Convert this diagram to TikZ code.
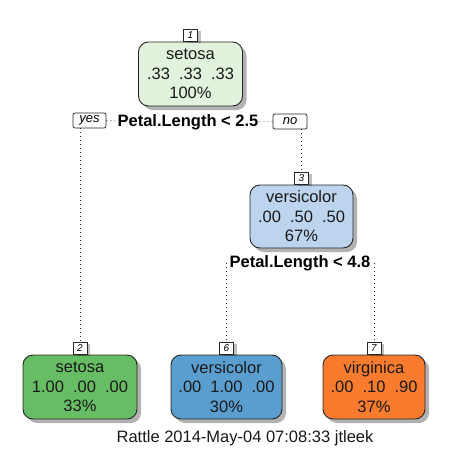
\documentclass[tikz,border=0pt]{standalone}
\usepackage{fontspec}
\setmainfont{Liberation Sans}
\usepackage{tikz}
\usetikzlibrary{shadows}
\definecolor{setosaL}{HTML}{E1F3DC}
\definecolor{setosaD}{HTML}{66BD63}
\definecolor{versiL}{HTML}{BDD4EE}
\definecolor{versiD}{HTML}{5A9ECF}
\definecolor{virgD}{HTML}{F87B2E}
\tikzstyle{leaf} = [draw=black!85, line width=0.9pt, rounded corners=10pt, align=center, inner sep=2pt,
  minimum height=64pt, font=\fontsize{16.5}{19.5}\selectfont, text=black!90,
  drop shadow={shadow xshift=4pt, shadow yshift=-4pt, opacity=0.3, fill=black}]
\tikzstyle{num} = [draw=black!85, line width=0.7pt, fill=white, inner sep=1pt, minimum width=14pt,
  minimum height=12pt, font=\fontsize{10}{10}\selectfont\itshape, anchor=south,
  drop shadow={shadow xshift=3pt, shadow yshift=-2pt, opacity=0.25, fill=black}]
\tikzstyle{yn} = [draw=black!85, line width=0.7pt, fill=white, rounded corners=2pt, inner sep=1pt,
  minimum height=15pt, font=\fontsize{13}{13}\selectfont\itshape]
\tikzstyle{split} = [font=\fontsize{16.5}{20}\selectfont\bfseries, inner sep=1pt]
\tikzstyle{conn} = [black!85, line width=0.9pt, dash pattern=on 0.9pt off 3.1pt]
\newcommand{\sep}{\hspace{0.55em}}

\begin{document}
\begin{tikzpicture}[x=1pt, y=-1pt]
\useasboundingbox[fill=white] (0,0) rectangle (450,450);

% root
\node[leaf, fill=setosaL, minimum width=104pt] (n1) at (190.5,74) {setosa\\.33\sep.33\sep.33\\100\%};
\node[num] (l1) at (n1.north) {1};

\node[split] (s1) at (188,122.5) {Petal.Length < 2.5};
\node[yn, minimum width=33pt] (yes) at (89.5,120.5) {yes};
\node[yn, minimum width=34pt] (no) at (290,121.5) {no};
\draw[conn] (yes) -- (s1);
\draw[conn] (s1) -- (no);

% right branch
\node[leaf, fill=versiL, minimum width=103pt, minimum height=63pt] (n3) at (301.5,216.5) {versicolor\\.00\sep.50\sep.50\\67\%};
\node[num] (l3) at (n3.north) {3};
\draw[conn] (no.south -| l3.north) -- (l3.north);

\node[split] (s2) at (300,263) {Petal.Length < 4.8};

% leaves
\node[leaf, fill=setosaD, minimum width=114pt] (n2) at (80,387) {setosa\\1.00\sep.00\sep.00\\33\%};
\node[num] (l2) at (n2.north) {2};
\node[leaf, fill=versiD, minimum width=111pt] (n6) at (226.5,387) {versicolor\\.00\sep1.00\sep.00\\30\%};
\node[num] (l6) at (n6.north) {6};
\node[leaf, fill=virgD, minimum width=102pt] (n7) at (374,387) {virginica\\.00\sep.10\sep.90\\37\%};
\node[num] (l7) at (n7.north) {7};

\draw[conn] (yes.south -| l2.north) -- (l2.north);
\draw[conn] (s2.center -| l6.north) -- (l6.north);
\draw[conn] (s2.center -| l7.north) -- (l7.north);

\node[font=\fontsize{16.5}{20}\selectfont, text=black!90] (footer) at (245,438) {Rattle 2014-May-04 07:08:33 jtleek};
\end{tikzpicture}
\end{document}
